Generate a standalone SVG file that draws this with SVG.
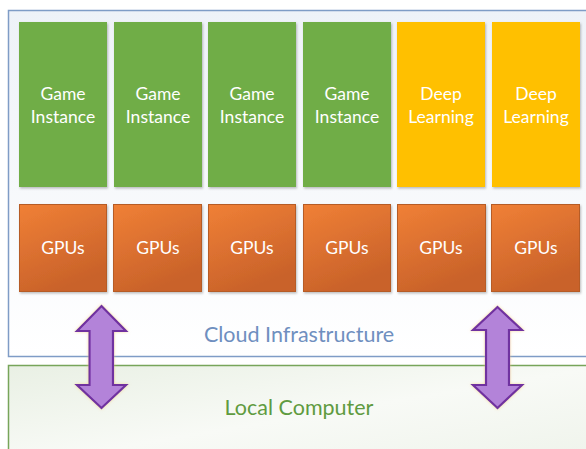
<svg xmlns="http://www.w3.org/2000/svg" width="586" height="449" viewBox="0 0 586 449">
  <defs>
    <linearGradient id="cloudFill" x1="0" y1="0" x2="0" y2="1">
      <stop offset="0" stop-color="#eef2f8"/>
      <stop offset="1" stop-color="#ffffff"/>
    </linearGradient>
    <linearGradient id="localFill" x1="0" y1="0" x2="1" y2="1">
      <stop offset="0" stop-color="#e9f0e4"/>
      <stop offset="0.5" stop-color="#f8faf6"/>
      <stop offset="1" stop-color="#eef3ea"/>
    </linearGradient>
    <linearGradient id="gpuFill" x1="0" y1="0" x2="0.4" y2="1">
      <stop offset="0" stop-color="#f08036"/>
      <stop offset="1" stop-color="#c9622a"/>
    </linearGradient>
    <filter id="shadow" x="-10%" y="-10%" width="125%" height="125%">
      <feDropShadow dx="1" dy="1.5" stdDeviation="1.2" flood-color="#000" flood-opacity="0.25"/>
    </filter>
    <filter id="glow" x="-30%" y="-20%" width="160%" height="140%">
      <feDropShadow dx="0" dy="0" stdDeviation="1.5" flood-color="#f5c97a" flood-opacity="0.7"/>
    </filter>
  </defs>
  <style>
    .label { font-family: Lato, "Open Sans", "Liberation Sans", sans-serif; fill: #ffffff; font-size: 17.5px; text-anchor: middle; }
    .game { fill: #70ad47; filter: url(#shadow); }
    .deep { fill: #ffc000; filter: url(#shadow); }
    .gpu { fill: url(#gpuFill); stroke: #b65b26; stroke-width: 1; filter: url(#shadow); }
    .area { font-family: Lato, "Open Sans", "Liberation Sans", sans-serif; font-size: 21.5px; text-anchor: middle; }
    .arrow { fill: #b383d9; stroke: #7030a0; stroke-width: 2.2; stroke-linejoin: miter; filter: url(#glow); }
  </style>

  <rect width="586" height="449" fill="#ffffff"/>

  <!-- Local computer area -->
  <g id="local-computer">
    <rect x="8.5" y="365.5" width="600" height="100" fill="url(#localFill)" stroke="#77a55a" stroke-width="1.5"/>
    <text class="area" x="299" y="415" fill="#5f9b40">Local Computer</text>
  </g>

  <!-- Cloud infrastructure area -->
  <g id="cloud-infrastructure">
    <rect x="8.5" y="10.5" width="600" height="346" fill="url(#cloudFill)" stroke="#7f9cc6" stroke-width="1.5"/>
    <text class="area" x="299" y="342" fill="#6f8fbf">Cloud Infrastructure</text>
  </g>

  <!-- Workloads -->
  <g id="game-1"><rect class="game" x="19" y="22" width="88" height="165"/><text class="label" x="63" y="100">Game</text><text class="label" x="63" y="123">Instance</text></g>
  <g id="game-2"><rect class="game" x="114" y="22" width="88" height="165"/><text class="label" x="158" y="100">Game</text><text class="label" x="158" y="123">Instance</text></g>
  <g id="game-3"><rect class="game" x="208" y="22" width="88" height="165"/><text class="label" x="252" y="100">Game</text><text class="label" x="252" y="123">Instance</text></g>
  <g id="game-4"><rect class="game" x="303" y="22" width="88" height="165"/><text class="label" x="347" y="100">Game</text><text class="label" x="347" y="123">Instance</text></g>
  <g id="deep-1"><rect class="deep" x="397" y="22" width="88" height="165"/><text class="label" x="441" y="100">Deep</text><text class="label" x="441" y="123">Learning</text></g>
  <g id="deep-2"><rect class="deep" x="492" y="22" width="88" height="165"/><text class="label" x="536" y="100">Deep</text><text class="label" x="536" y="123">Learning</text></g>

  <!-- GPU pool -->
  <g id="gpu-1"><rect class="gpu" x="19.5" y="204.5" width="87" height="87"/><text class="label" x="63" y="254">GPUs</text></g>
  <g id="gpu-2"><rect class="gpu" x="113.5" y="204.5" width="88" height="87"/><text class="label" x="158" y="254">GPUs</text></g>
  <g id="gpu-3"><rect class="gpu" x="208.5" y="204.5" width="87" height="87"/><text class="label" x="252" y="254">GPUs</text></g>
  <g id="gpu-4"><rect class="gpu" x="303.5" y="204.5" width="87" height="87"/><text class="label" x="347" y="254">GPUs</text></g>
  <g id="gpu-5"><rect class="gpu" x="397.5" y="204.5" width="88" height="87"/><text class="label" x="441" y="254">GPUs</text></g>
  <g id="gpu-6"><rect class="gpu" x="491.5" y="204.5" width="88" height="87"/><text class="label" x="536" y="254">GPUs</text></g>

  <!-- Links between local computer and cloud -->
  <g id="connectors">
    <path class="arrow" d="M101.5 306 L126 331 L113 331 L113 385 L126 385 L101.5 408 L77 385 L89.5 385 L89.5 331 L77 331 Z"/>
    <path class="arrow" d="M497.5 307 L522 330 L509 330 L509 385 L522 385 L497.5 408 L473 385 L486 385 L486 330 L473 330 Z"/>
  </g>
</svg>
